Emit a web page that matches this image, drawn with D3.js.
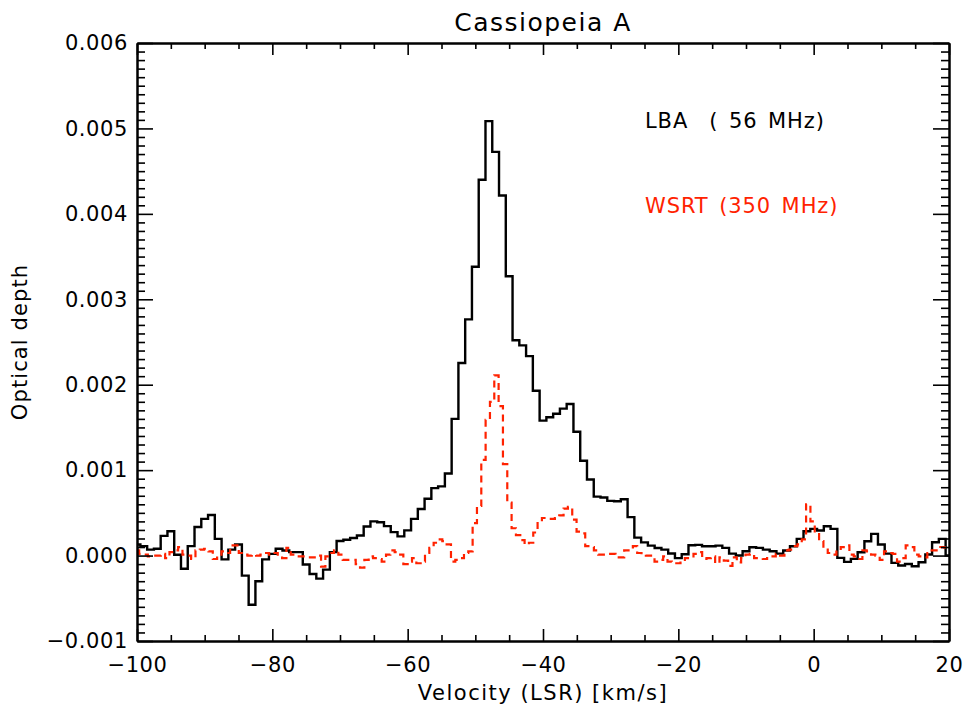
<!DOCTYPE html>
<html><head><meta charset="utf-8">
<script src="https://cdn.jsdelivr.net/npm/d3@7"></script>
<style>
html,body{margin:0;padding:0;background:#fff;}
svg{display:block;}
text{font-family:"DejaVu Sans",sans-serif;}
</style></head>
<body>
<svg id="chart" width="966" height="710"></svg>
<script>
// ---- data ----
const title = "Cassiopeia A";
const xLabel = "Velocity (LSR) [km/s]";
const yLabel = "Optical depth";
const xTicks = [-100, -80, -60, -40, -20, 0, 20];
const yTicks = [-0.001, 0, 0.001, 0.002, 0.003, 0.004, 0.005, 0.006];
const yTickLabels = ["\u22120.001", "0.000", "0.001", "0.002", "0.003", "0.004", "0.005", "0.006"];
const legendLabels = ["LBA  ( 56 MHz)", "WSRT (350 MHz)"];

// LBA spectrum: channel centres start at -100 km/s, 1 km/s spacing (units of 1e-3)
const lbaStart = -100, lbaStep = 1;
const lbaValues = [
 0.13, 0.11, 0.07, 0.08, 0.23, 0.285, 0.01, -0.155, 0.11, 0.335,
 0.43, 0.475, 0.195, -0.045, 0.07, 0.13, -0.235, -0.575, -0.30, -0.045,
 0.02, 0.08, 0.06, 0.04, 0.04, -0.105, -0.215, -0.27, -0.165, 0.04,
 0.17, 0.185, 0.205, 0.235, 0.34, 0.40, 0.39, 0.345, 0.275, 0.225,
 0.295, 0.43, 0.545, 0.665, 0.79, 0.81, 0.96, 1.60, 2.255, 2.765,
 3.38, 4.40, 5.085, 4.725, 4.215, 3.27, 2.52, 2.46, 2.335, 1.93,
 1.58, 1.62, 1.66, 1.72, 1.775, 1.45, 1.11, 0.89, 0.69, 0.68,
 0.64, 0.635, 0.66, 0.45, 0.21, 0.155, 0.117, 0.088, 0.07, 0.025,
 -0.03, 0.015, 0.12, 0.125, 0.109, 0.109, 0.117, 0.09, 0.023, 0.0,
 0.051, 0.098, 0.09, 0.07, 0.051, 0.023, 0.059, 0.109, 0.195, 0.285,
 0.312, 0.293, 0.343, 0.312, -0.027, -0.074, -0.039, 0.039, 0.168, 0.254,
 0.129, 0.023, -0.086, -0.117, -0.098, -0.125, -0.078, 0.012, 0.156, 0.195,
 0.0
];

// WSRT spectrum: channel centres start at -100 km/s, 0.64 km/s spacing (units of 1e-3)
const wsrtStart = -100, wsrtStep = 0.64;
const wsrtValues = [
 0.06, 0.02, 0.01, -0.01, 0.00, 0.00, 0.02, -0.03, 0.04, 0.06,
 0.10, 0.01, 0.00, -0.04, 0.06, 0.07, 0.08, 0.05, -0.04, -0.01,
 0.05, 0.03, 0.12, 0.12, 0.03, 0.01, 0.00, 0.01, 0.00, 0.01,
 0.03, 0.01, 0.03, -0.01, -0.03, 0.09, 0.01, -0.01, -0.01, -0.01,
 -0.02, -0.02, 0.00, -0.13, -0.01, 0.03, 0.06, 0.01, -0.05, -0.05,
 -0.05, -0.10, -0.14, -0.05, -0.01, -0.03, -0.04, -0.07, 0.01, 0.06,
 0.04, 0.01, -0.10, -0.07, -0.03, -0.09, -0.07, 0.03, 0.09, 0.15,
 0.19, 0.17, 0.13, -0.07, -0.05, -0.03, 0.03, 0.05, 0.38, 0.58,
 1.12, 1.59, 1.80, 2.11, 1.75, 1.07, 0.62, 0.32, 0.24, 0.18,
 0.13, 0.15, 0.27, 0.40, 0.44, 0.43, 0.43, 0.44, 0.47, 0.55,
 0.57, 0.42, 0.28, 0.26, 0.11, 0.10, 0.06, 0.01, 0.01, 0.02,
 0.02, -0.02, -0.02, 0.06, 0.08, 0.11, 0.03, 0.01, 0.00, 0.00,
 -0.07, -0.05, -0.01, -0.07, -0.09, -0.09, -0.05, -0.03, -0.01, 0.02,
 0.04, -0.04, -0.03, -0.01, -0.09, -0.02, -0.06, -0.12, -0.02, -0.08,
 -0.03, 0.01, 0.02, -0.03, -0.03, -0.04, -0.01, -0.01, 0.02, 0.00,
 0.06, 0.07, 0.11, 0.13, 0.19, 0.60, 0.40, 0.25, 0.17, 0.09,
 0.03, 0.01, 0.06, 0.10, 0.12, 0.01, -0.01, -0.04, 0.06, 0.05,
 0.01, 0.00, -0.05, 0.05, 0.03, 0.02, -0.07, -0.03, 0.12, 0.10,
 0.01, -0.01, -0.02, 0.03, 0.06, 0.06, 0.10, 0.09
];

// ---- drawing ----
const svg = d3.select("#chart");
const L = 137, R = 949, T = 43, B = 641;
const x = d3.scaleLinear().domain([-100, 20]).range([L, R]);
const y = d3.scaleLinear().domain([-0.001, 0.006]).range([B, T]);

const lba = lbaValues.map((v, i) => ({v: lbaStart + i * lbaStep, t: v * 1e-3}));
const wsrt = wsrtValues.map((v, i) => ({v: wsrtStart + i * wsrtStep, t: v * 1e-3}));

svg.append("defs").append("clipPath").attr("id", "clip")
  .append("rect").attr("x", L).attr("y", T).attr("width", R - L).attr("height", B - T);

const line = d3.line().x(d => x(d.v)).y(d => y(d.t)).curve(d3.curveStep);
const plot = svg.append("g").attr("clip-path", "url(#clip)");
plot.append("path").datum(lba).attr("d", line)
  .attr("fill", "none").attr("stroke", "#000").attr("stroke-width", 2.4)
  .attr("stroke-linejoin", "miter");
plot.append("path").datum(wsrt).attr("d", line)
  .attr("fill", "none").attr("stroke", "#ff2200").attr("stroke-width", 2.2)
  .attr("stroke-dasharray", "7,5");

// axes (ticks point inward)
const fs = 21;
const xMinor = d3.range(-100, 20.001, 5).filter(v => !xTicks.includes(v));
const yMinor = d3.range(-10, 60.5, 1).map(v => v * 1e-4).filter(v => !yTicks.some(t => Math.abs(t - v) < 1e-9));

function styleAxis(g) {
  g.select(".domain").attr("stroke-width", 2).attr("stroke", "#000");
  g.selectAll(".tick line").attr("stroke-width", 1.6).attr("stroke", "#000");
  g.selectAll("text").attr("font-size", fs).attr("fill", "#000")
    .attr("font-family", "DejaVu Sans").attr("letter-spacing", "0.6px");
}

// bottom
svg.append("g").attr("transform", `translate(0,${B})`)
  .call(d3.axisBottom(x).tickValues(xMinor).tickSize(-6).tickSizeOuter(0).tickFormat(""))
  .call(styleAxis);
svg.append("g").attr("transform", `translate(0,${B})`)
  .call(d3.axisBottom(x).tickValues(xTicks).tickSize(-12).tickSizeOuter(0).tickPadding(16)
    .tickFormat(d => d < 0 ? "\u2212" + Math.abs(d) : String(d)))
  .call(styleAxis);
// top
svg.append("g").attr("transform", `translate(0,${T})`)
  .call(d3.axisTop(x).tickValues(xMinor).tickSize(-6).tickSizeOuter(0).tickFormat(""))
  .call(styleAxis);
svg.append("g").attr("transform", `translate(0,${T})`)
  .call(d3.axisTop(x).tickValues(xTicks).tickSize(-12).tickSizeOuter(0).tickFormat(""))
  .call(styleAxis);
// left
svg.append("g").attr("transform", `translate(${L},0)`)
  .call(d3.axisLeft(y).tickValues(yMinor).tickSize(-8).tickSizeOuter(0).tickFormat(""))
  .call(styleAxis);
svg.append("g").attr("transform", `translate(${L},0)`)
  .call(d3.axisLeft(y).tickValues(yTicks).tickSize(-16).tickSizeOuter(0).tickPadding(9)
    .tickFormat((d, i) => yTickLabels[i]))
  .call(styleAxis);
// right
svg.append("g").attr("transform", `translate(${R},0)`)
  .call(d3.axisRight(y).tickValues(yMinor).tickSize(-8).tickSizeOuter(0).tickFormat(""))
  .call(styleAxis);
svg.append("g").attr("transform", `translate(${R},0)`)
  .call(d3.axisRight(y).tickValues(yTicks).tickSize(-16).tickSizeOuter(0).tickFormat(""))
  .call(styleAxis);

// titles
svg.append("text").attr("x", (L + R) / 2).attr("y", 31).attr("text-anchor", "middle")
  .attr("font-size", 25).attr("letter-spacing", "1.5px").text(title);
svg.append("text").attr("x", (L + R) / 2).attr("y", 700).attr("text-anchor", "middle")
  .attr("font-size", fs).attr("letter-spacing", "1.5px").text(xLabel);
svg.append("text").attr("transform", `translate(27,${(T + B) / 2}) rotate(-90)`)
  .attr("text-anchor", "middle").attr("font-size", fs).attr("letter-spacing", "1.1px").text(yLabel);

// legend text
const legendColors = ["#000", "#ff2200"];
const legendY = [128, 213];
legendLabels.forEach((t, i) => {
  svg.append("text").attr("x", 645).attr("y", legendY[i]).attr("font-size", fs)
    .attr("fill", legendColors[i]).attr("letter-spacing", "0.9px").attr("word-spacing", "3px")
    .style("white-space", "pre").text(t);
});
</script>
</body></html>
